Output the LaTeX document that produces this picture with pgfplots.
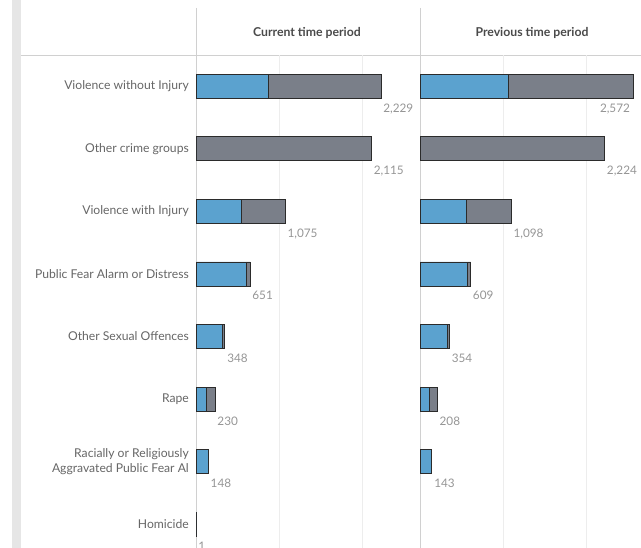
\documentclass[border=0pt]{standalone}
\usepackage{fontspec}
\setmainfont{Lato}
\usepackage{pgfplots}
\pgfplotsset{compat=1.18}

\definecolor{barblue}{HTML}{5BA2CF}
\definecolor{bargrey}{HTML}{7A7F89}
\definecolor{baredge}{HTML}{2B2B2B}
\definecolor{stripgrey}{HTML}{E6E6E6}
\definecolor{sepline}{HTML}{D0D0D0}
\definecolor{gridgrey}{HTML}{EDEDED}
\definecolor{catgrey}{HTML}{666666}
\definecolor{valgrey}{HTML}{959595}
\definecolor{hdrgrey}{HTML}{4A4A4A}

\pgfplotsset{
  panel/.style={
    scale only axis,
    height=493bp,
    anchor=south west,
    xbar stacked,
    stacked ignores zero=false,
    bar width=24bp,
    xmin=0,
    ymin=-0.5, ymax=7.38,
    y dir=reverse,
    enlargelimits=false,
    axis line style={draw=none},
    major tick length=0pt,
    xtick=\empty,
    ytick={0,...,7},
    yticklabel style={font=\fontsize{12.2}{14.3}\selectfont, text=catgrey,
      align=right, inner sep=0pt, xshift=-7bp},
    every axis plot/.append style={draw=baredge, line width=0.8bp},
    /pgf/number format/assume math mode=true,
    nodes near coords style={anchor=north west, inner sep=1bp,
      xshift=1bp, yshift=-16bp, text=valgrey,
      font=\fontsize{11.8}{13}\selectfont},
  },
  % zero-length segment that carries the total label at the bar end
  totals/.style={draw=none, fill=none, point meta=explicit, nodes near coords},
}

\begin{document}
\begin{tikzpicture}[x=1bp, y=1bp]
\path[use as bounding box] (0,0) rectangle (641,548);
\fill[stripgrey] (12,0) rectangle (21,548);
\draw[sepline, line width=0.8bp] (21,493) -- (641,493);
\foreach \gx in {279,362,503,586}
  \draw[gridgrey, line width=0.8bp] (\gx,493) -- (\gx,0);
\draw[sepline, line width=0.8bp] (196,540) -- (196,0);
\draw[sepline, line width=0.8bp] (420,540) -- (420,0);
\node[text=hdrgrey, font=\bfseries\fontsize{12.3}{14}\selectfont] at (307,515) {Current time period};
\node[text=hdrgrey, font=\bfseries\fontsize{12.3}{14}\selectfont] at (532,515) {Previous time period};

% current time period
\begin{axis}[panel, at={(196bp,0bp)}, width=224bp, xmax=2700,
  yticklabels={Violence without Injury, Other crime groups, Violence with Injury,
    Public Fear Alarm or Distress, Other Sexual Offences, Rape,
    {Racially or Religiously\\Aggravated Public Fear Al}, Homicide}]
\addplot[fill=barblue] coordinates {
  (867,0) (0,1) (550,2) (605,3) (318,4) (120,5) (146,6) (0,7)
};
\addplot[fill=bargrey] coordinates {
  (1362,0) (2115,1) (525,2) (46,3) (30,4) (110,5) (2,6) (1,7)
};
\addplot[totals] coordinates {
  (0,0) [2229] (0,1) [2115] (0,2) [1075] (0,3) [651]
  (0,4) [348] (0,5) [230] (0,6) [148] (0,7) [1]
};
\end{axis}

% previous time period
\begin{axis}[panel, at={(420bp,0bp)}, width=221bp, xmax=2663, yticklabels={}]
\addplot[fill=barblue] coordinates {
  (1069,0) (0,1) (562,2) (575,3) (325,4) (110,5) (141,6)
};
\addplot[fill=bargrey] coordinates {
  (1503,0) (2224,1) (536,2) (34,3) (29,4) (98,5) (2,6)
};
% the first label is pulled back inside the panel, as in the source
\addplot[totals, visualization depends on={value \coordindex \as \ci},
  every node near coord/.append style={xshift={-36*(\ci==0)}}] coordinates {
  (0,0) [2572] (0,1) [2224] (0,2) [1098] (0,3) [609]
  (0,4) [354] (0,5) [208] (0,6) [143]
};
\end{axis}
\end{tikzpicture}
\end{document}
